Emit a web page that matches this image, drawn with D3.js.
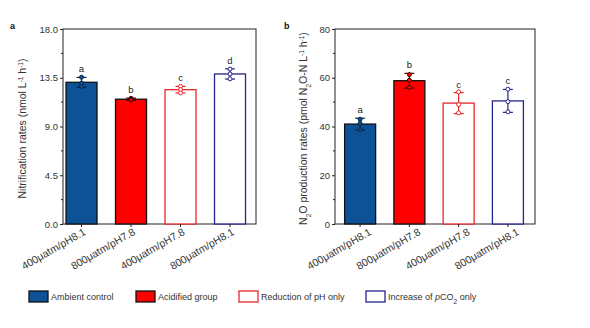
<!DOCTYPE html>
<html>
<head>
<meta charset="utf-8">
<script src="https://cdn.jsdelivr.net/npm/d3@7"></script>
<style>
  html, body { margin: 0; padding: 0; background: #fff; }
  svg { display: block; font-family: "Liberation Sans", Arial, sans-serif; }
</style>
</head>
<body>
<svg id="chart" width="590" height="328"></svg>
<script>
const groups = ["400μatm/pH8.1", "800μatm/pH7.8", "400μatm/pH7.8", "800μatm/pH8.1"];
const treatments = ["Ambient control", "Acidified group", "Reduction of pH only", "Increase of pCO2 only"];

// nitrification rates (nmol L-1 h-1)
const nitrMean = [13.08, 11.52, 12.4, 13.85];
const nitrSd = [0.45, 0.1, 0.3, 0.47];
const nitrReps = [[13.55, 13.0, 12.7], [11.6, 11.5, 11.45], [12.7, 12.4, 12.1], [14.3, 13.85, 13.4]];
const nitrLetters = ["a", "b", "c", "d"];
const nitrTicks = [0, 4.5, 9, 13.5, 18];

// N2O production rates (pmol N2O-N L-1 h-1)
const n2oMean = [41.0, 58.8, 49.6, 50.5];
const n2oSd = [2.4, 3.0, 4.3, 4.7];
const n2oReps = [[43.0, 41.3, 38.7], [61.3, 59.0, 56.1], [54.2, 49.0, 45.6], [55.3, 50.2, 46.0]];
const n2oLetters = ["a", "b", "c", "c"];
const n2oTicks = [0, 20, 40, 60, 80];

const fills = ["#0d5196", "#ff0000", "#ffffff", "#ffffff"];
const strokes = ["#111111", "#111111", "#e8262a", "#24248c"];
const errColors = ["#0b2344", "#3a0a0a", "#e8262a", "#24248c"];

const svg = d3.select("#chart");
const plotTop = 29, plotBottom = 224;

function drawPanel(opt) {
  const g = svg.append("g");
  const x = d3.scaleLinear().domain(opt.xDomain).range([opt.left, opt.right]);
  const y = d3.scaleLinear().domain([0, opt.max]).range([plotBottom, plotTop]);
  const barW = 31;

  // frame
  g.append("rect")
    .attr("x", opt.left).attr("y", plotTop)
    .attr("width", opt.right - opt.left).attr("height", plotBottom - plotTop)
    .attr("fill", "none").attr("stroke", "#222").attr("stroke-width", 1);

  // bars
  g.selectAll("rect.bar")
    .data(opt.mean)
    .join("rect")
    .attr("class", "bar")
    .attr("x", (d, i) => x(i) - barW / 2)
    .attr("y", d => y(d))
    .attr("width", barW)
    .attr("height", d => plotBottom - y(d))
    .attr("fill", (d, i) => fills[i])
    .attr("stroke", (d, i) => strokes[i])
    .attr("stroke-width", 1.3);

  // error bars with replicate points
  opt.mean.forEach((m, i) => {
    const c = errColors[i];
    const cx = x(i);
    const hi = y(m + opt.sd[i]), lo = y(m - opt.sd[i]);
    g.append("line").attr("x1", cx).attr("x2", cx).attr("y1", hi).attr("y2", lo)
      .attr("stroke", c).attr("stroke-width", 1.2);
    [hi, lo].forEach(yy => {
      g.append("line").attr("x1", cx - 5).attr("x2", cx + 5).attr("y1", yy).attr("y2", yy)
        .attr("stroke", c).attr("stroke-width", 1.2);
    });
    g.selectAll(null)
      .data(opt.reps[i])
      .join("circle")
      .attr("cx", cx).attr("cy", d => y(d)).attr("r", 2)
      .attr("fill", i < 2 ? fills[i] : "#fff")
      .attr("stroke", c).attr("stroke-width", 1);
    g.append("text")
      .attr("x", cx).attr("y", hi - 5)
      .attr("text-anchor", "middle")
      .attr("font-size", 9.5).attr("fill", "#222")
      .text(opt.letters[i]);
  });

  // y axis
  const yAxis = g.append("g")
    .attr("transform", `translate(${opt.left},0)`)
    .call(d3.axisLeft(y).tickValues(opt.ticks).tickFormat(opt.fmt).tickSize(3).tickPadding(2));
  yAxis.select(".domain").remove();
  yAxis.selectAll("line").attr("stroke", "#222");
  yAxis.selectAll("text").attr("font-size", 9.5).attr("fill", "#333");
  const minor = d3.pairs(opt.ticks).map(p => (p[0] + p[1]) / 2);
  g.selectAll("line.minor")
    .data(minor)
    .join("line")
    .attr("x1", opt.left - 2).attr("x2", opt.left)
    .attr("y1", d => y(d)).attr("y2", d => y(d))
    .attr("stroke", "#222");

  // x ticks and rotated labels
  g.selectAll("line.xt")
    .data(groups)
    .join("line")
    .attr("x1", (d, i) => x(i)).attr("x2", (d, i) => x(i))
    .attr("y1", plotBottom).attr("y2", plotBottom + 3)
    .attr("stroke", "#222");
  g.selectAll("text.xl")
    .data(groups)
    .join("text")
    .attr("transform", (d, i) => `translate(${x(i) + opt.labelShift},${plotBottom + 10}) rotate(-30)`)
    .attr("text-anchor", "end")
    .attr("font-size", 10.5).attr("fill", "#333")
    .text(d => d);

  // y title
  const title = g.append("text")
    .attr("transform", `translate(${opt.titleX},${(plotTop + plotBottom) / 2 + 2}) rotate(-90)`)
    .attr("text-anchor", "middle")
    .attr("font-size", 10.5).attr("fill", "#333");
  opt.title(title);

  // panel letter
  g.append("text")
    .attr("x", opt.tagX).attr("y", 29)
    .attr("font-size", 9).attr("font-weight", "bold").attr("fill", "#111")
    .text(opt.tag);
}

function sup(t, s) { t.append("tspan").attr("baseline-shift", "super").attr("font-size", 6.5).text(s); }
function sub(t, s) { t.append("tspan").attr("baseline-shift", "sub").attr("font-size", 6.5).text(s); }

drawPanel({
  left: 63, right: 256, xDomain: [-0.374, 3.525], max: 18,
  mean: nitrMean, sd: nitrSd, reps: nitrReps, letters: nitrLetters,
  ticks: nitrTicks, fmt: d3.format(".1f"), titleX: 26, tagX: 10, tag: "a",
  labelShift: 5,
  title: t => {
    t.append("tspan").text("Nitrification rates (nmol L");
    sup(t, "-1");
    t.append("tspan").text(" h");
    sup(t, "-1");
    t.append("tspan").text(")");
  }
});

drawPanel({
  left: 335, right: 535, xDomain: [-0.51, 3.55], max: 80,
  mean: n2oMean, sd: n2oSd, reps: n2oReps, letters: n2oLetters,
  ticks: n2oTicks, fmt: d3.format("d"), titleX: 307, tagX: 284, tag: "b",
  labelShift: 12,
  title: t => {
    t.append("tspan").text("N");
    sub(t, "2");
    t.append("tspan").text("O production rates (pmol N");
    sub(t, "2");
    t.append("tspan").text("O-N L");
    sup(t, "-1");
    t.append("tspan").text(" h");
    sup(t, "-1");
    t.append("tspan").text(")");
  }
});

// legend
const legendX = [29, 136, 239, 366];
const leg = svg.append("g");
treatments.forEach((name, i) => {
  leg.append("rect")
    .attr("x", legendX[i]).attr("y", 291)
    .attr("width", 19).attr("height", 11)
    .attr("fill", fills[i]).attr("stroke", strokes[i]).attr("stroke-width", 1.3);
  const t = leg.append("text")
    .attr("x", legendX[i] + 22).attr("y", 300)
    .attr("font-size", 9).attr("fill", "#333");
  if (i === 3) {
    t.append("tspan").text("Increase of ");
    t.append("tspan").attr("font-style", "italic").text("p");
    t.append("tspan").text("CO");
    sub(t, "2");
    t.append("tspan").text(" only");
  } else {
    t.text(name);
  }
});
</script>
</body>
</html>
